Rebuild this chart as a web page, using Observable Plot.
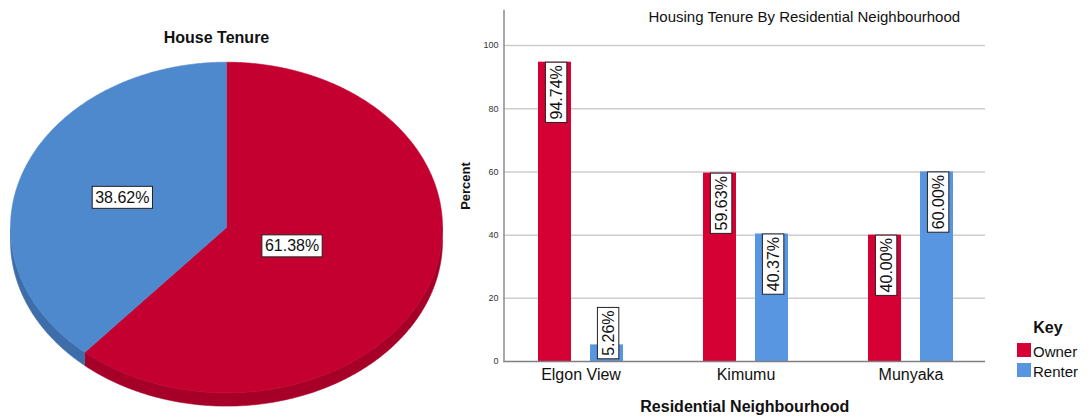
<!DOCTYPE html>
<html>
<head>
<meta charset="utf-8">
<script src="https://cdn.jsdelivr.net/npm/d3@7"></script>
<script src="https://cdn.jsdelivr.net/npm/@observablehq/plot@0.6"></script>
<style>
  body { margin: 0; background: #fff; font-family: Arial, "Liberation Sans", sans-serif; }
  #wrap { position: relative; width: 1089px; height: 419px; overflow: hidden; background: #fff; }
  #pie { position: absolute; left: 0; top: 0; }
  #bars { position: absolute; left: 455px; top: 0; }
  #pieTitle { position: absolute; left: 0; top: 30px; width: 433px; text-align: center;
              font-size: 16px; line-height: 16px; font-weight: bold; color: #111; }
  #legendTitle { position: absolute; left: 1008px; top: 320px; width: 80px; text-align: center;
                 font-size: 16px; line-height: 16px; font-weight: bold; color: #111; }
  .sw { position: absolute; left: 1017px; width: 14px; height: 14px; }
  .lt { position: absolute; left: 1033px; font-size: 15px; line-height: 15px; color: #111; }
</style>
</head>
<body>
<div id="wrap">
  <div id="pie"></div>
  <div id="bars"></div>
  <div id="pieTitle">House Tenure</div>
  <div id="legendTitle">Key</div>
  <div class="sw" id="sw0" style="top:343px"></div>
  <div class="lt" id="lt0" style="top:344px"></div>
  <div class="sw" id="sw1" style="top:363px"></div>
  <div class="lt" id="lt1" style="top:364px"></div>
</div>
<script>
// ---------------- data ----------------
const pieCategories = ["Owner", "Renter"];
const pieValues = [61.38, 38.62];

const neighbourhoods = ["Elgon View", "Kimumu", "Munyaka"];
const tenures = ["Owner", "Renter"];
const ownerPct = [94.74, 59.63, 40.00];
const renterPct = [5.26, 40.37, 60.00];
const yTicks = [0, 20, 40, 60, 80, 100];

// ---------------- styles ----------------
const FONT = "Arial, 'Liberation Sans', sans-serif";
const pieTop = {Owner: "#c3002f", Renter: "#4f89cd"};
const pieSide = {Owner: "#a60028", Renter: "#3e6ea9"};
const barColors = ["#d50034", "#5896e2"];
const DEPTH = 0.0805; // pie thickness in unit-ellipse coordinates

// ---------------- pie ----------------
const total = d3.sum(pieValues);
let acc = 0;
const slices = pieCategories.map((c, i) => {
  const a0 = acc / total * 2 * Math.PI;
  acc += pieValues[i];
  const a1 = acc / total * 2 * Math.PI;
  const alpha = (a1 - a0) / 2, mid = (a0 + a1) / 2;
  const r = 2 * Math.sin(alpha) / (3 * alpha); // sector centroid
  return {cat: c, value: pieValues[i], a0, a1, lx: r * Math.sin(mid), ly: r * Math.cos(mid),
          label: pieValues[i].toFixed(2) + "%"};
});
function arcPts(a0, a1, off = 0) {
  const n = Math.max(2, Math.ceil((a1 - a0) / (Math.PI / 360)));
  return d3.range(n + 1).map(k => {
    const t = a0 + (a1 - a0) * k / n;
    return {x: Math.sin(t), y: Math.cos(t) - off};
  });
}
const sideMarks = slices.map(s => {
  const lo = Math.max(s.a0, Math.PI / 2), hi = Math.min(s.a1, 3 * Math.PI / 2);
  if (hi <= lo) return null;
  const pts = arcPts(lo, hi).concat(arcPts(lo, hi, DEPTH).reverse());
  return Plot.line(pts, {x: "x", y: "y", fill: pieSide[s.cat], stroke: pieSide[s.cat], strokeWidth: 0.6, curve: "linear"});
}).filter(Boolean);
const topMarks = slices.map(s => {
  const pts = [{x: 0, y: 0}].concat(arcPts(s.a0, s.a1), [{x: 0, y: 0}]);
  return Plot.line(pts, {x: "x", y: "y", fill: pieTop[s.cat], stroke: pieTop[s.cat], strokeWidth: 0.6, curve: "linear"});
});

const pie = Plot.plot({
  width: 455, height: 419,
  marginTop: 0, marginRight: 0, marginBottom: 0, marginLeft: 0,
  style: {fontFamily: FONT, background: "transparent"},
  x: {domain: [-1, 1], range: [10, 442], axis: null},
  y: {domain: [-1, 1], range: [392.3, 61.7], axis: null},
  marks: [
    ...sideMarks,
    ...topMarks,
    Plot.text(slices, {x: "lx", y: "ly", text: "label", fontSize: 16, fill: "#111",
                       textAnchor: "middle", lineAnchor: "middle"})
  ]
});
document.getElementById("pie").appendChild(pie);

// ---------------- bars ----------------
const rows = neighbourhoods.flatMap((n, i) => [
  {hood: n, tenure: tenures[0], value: ownerPct[i]},
  {hood: n, tenure: tenures[1], value: renterPct[i]}
]);
const OFF = 26, INSET = 66;
const fmt = d => d.value.toFixed(2) + "%";
const barMarks = tenures.map((t, k) =>
  Plot.barY(rows.filter(r => r.tenure === t), {
    x: "hood", y: "value", fill: "tenure", dx: k === 0 ? -OFF : OFF,
    insetLeft: INSET, insetRight: INSET
  }));
const labelMarks = tenures.flatMap((t, k) => [
  Plot.text(rows.filter(r => r.tenure === t && r.value >= 20), {
    x: "hood", y: "value", text: fmt, rotate: -90, textAnchor: "end", lineAnchor: "middle",
    dx: (k === 0 ? -OFF : OFF) + 1.5, dy: 3, fontSize: 16, fill: "#111"
  }),
  Plot.text(rows.filter(r => r.tenure === t && r.value < 20), {
    x: "hood", y: () => 0, text: fmt, rotate: -90, textAnchor: "start", lineAnchor: "middle",
    dx: (k === 0 ? -OFF : OFF) + 1.5, dy: -5.7, fontSize: 16, fill: "#111"
  })
]);

const bars = Plot.plot({
  width: 634, height: 419,
  marginTop: 10, marginRight: 104, marginBottom: 58, marginLeft: 48.5,
  style: {fontFamily: FONT, background: "transparent"},
  x: {domain: neighbourhoods, range: [42.7, 537.7], padding: 0, axis: null},
  y: {domain: [0, 111.1], axis: null},
  color: {domain: tenures, range: barColors},
  marks: [
    Plot.ruleY(yTicks.filter(v => v > 0), {stroke: "#cdcdcd", strokeWidth: 1.5}),
    ...barMarks,
    Plot.ruleY([0], {stroke: "#7f7f7f", strokeWidth: 1.5}),
    Plot.frame({anchor: "left", stroke: "#8c8c8c", strokeWidth: 1.5}),
    Plot.axisY({ticks: yTicks, tickSize: 0, tickPadding: 5.5, fontSize: 9, color: "#333", label: null}),
    Plot.axisX({tickSize: 0, tickPadding: 7, fontSize: 16, color: "#111", label: null}),
    ...labelMarks,
    Plot.text(["Percent"], {text: d => d, frameAnchor: "left", rotate: -90, dx: -38.5,
                            fontSize: 13, fontWeight: "bold", fill: "#111", textAnchor: "middle", lineAnchor: "middle"}),
    Plot.text(["Residential Neighbourhood"], {text: d => d, frameAnchor: "bottom", dy: 45.7,
                            fontSize: 16, fontWeight: "bold", fill: "#111", textAnchor: "middle", lineAnchor: "middle"}),
    Plot.text(["Housing Tenure By Residential Neighbourhood"], {text: d => d, frameAnchor: "top-left",
                            dx: 144.5, dy: 11.7, fontSize: 15, fill: "#111", textAnchor: "start", lineAnchor: "bottom"})
  ]
});
document.getElementById("bars").appendChild(bars);

// ---------------- boxed value labels ----------------
function boxLabels(svg, padX, padY) {
  Array.from(svg.querySelectorAll("text"))
    .filter(t => /^\d+\.\d\d%$/.test(t.textContent.trim()))
    .forEach(t => {
      const b = t.getBBox();
      const r = document.createElementNS("http://www.w3.org/2000/svg", "rect");
      r.setAttribute("x", b.x - padX);
      r.setAttribute("y", b.y - padY);
      r.setAttribute("width", b.width + 2 * padX);
      r.setAttribute("height", b.height + 2 * padY);
      r.setAttribute("fill", "#fff");
      r.setAttribute("stroke", "#222");
      r.setAttribute("stroke-width", 1);
      const tr = t.getAttribute("transform");
      if (tr) r.setAttribute("transform", tr);
      t.parentNode.insertBefore(r, t);
    });
}
boxLabels(pie, 3, 2.5);
boxLabels(bars, 3, 2.2);

// ---------------- legend ----------------
tenures.forEach((t, k) => {
  document.getElementById("sw" + k).style.background = barColors[k];
  document.getElementById("lt" + k).textContent = t;
});
</script>
</body>
</html>
